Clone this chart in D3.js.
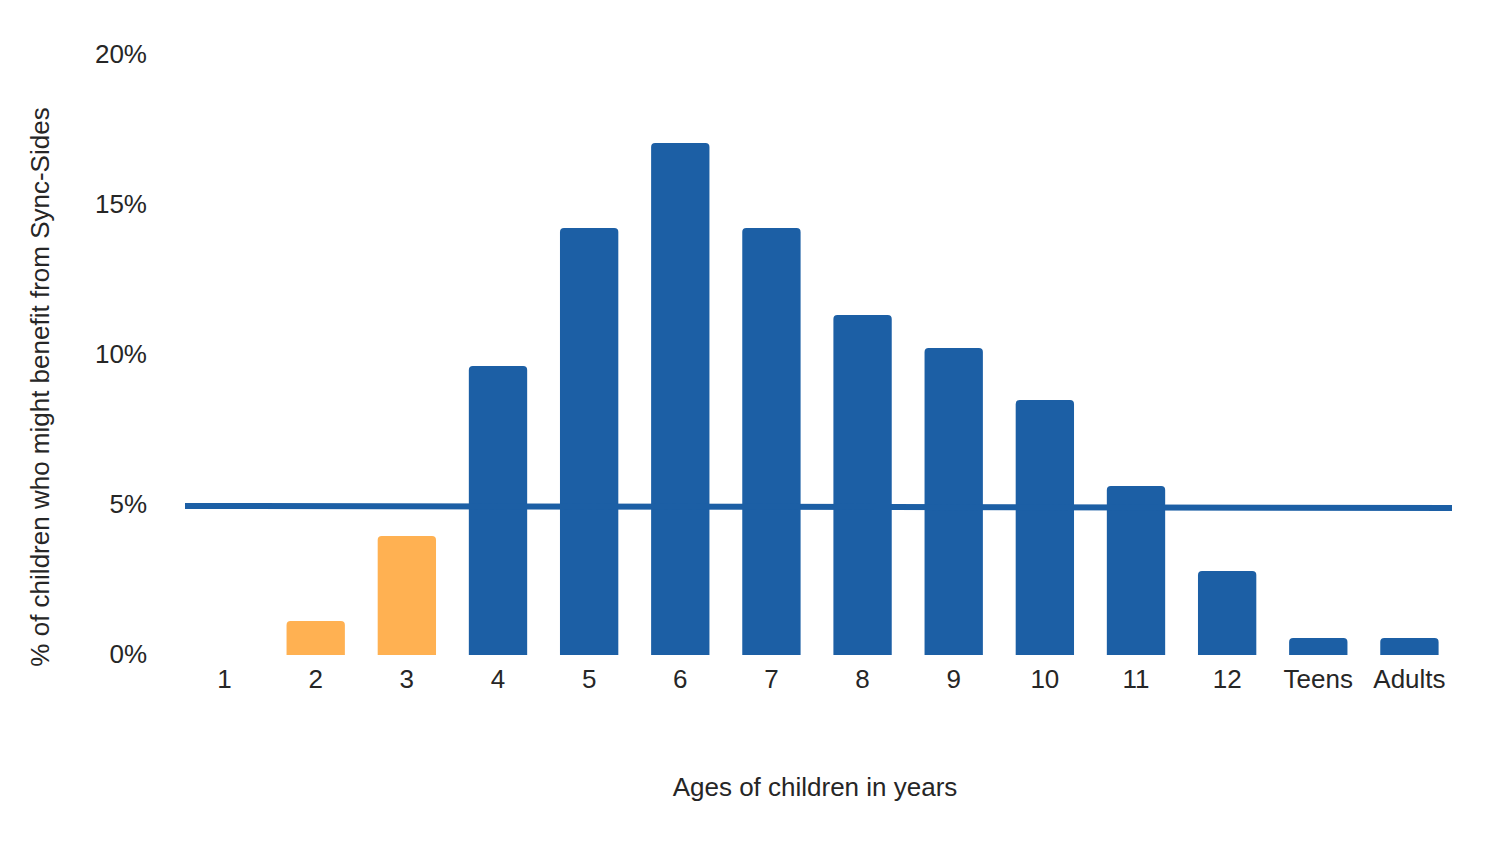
<!DOCTYPE html>
<html><head><meta charset="utf-8">
<script src="https://cdn.jsdelivr.net/npm/d3@7"></script>
<style>body{margin:0;background:#fff;} text{font-family:"Liberation Sans",Arial,sans-serif;fill:#262626;}</style>
</head><body>
<svg id="c" width="1500" height="845"></svg>
<script>
const categories = ["1","2","3","4","5","6","7","8","9","10","11","12","Teens","Adults"];
const values = [0, 1.13, 3.97, 9.63, 14.23, 17.07, 14.23, 11.33, 10.23, 8.5, 5.63, 2.8, 0.57, 0.57];
const highlighted = ["2","3"];
const yTicks = [0, 5, 10, 15, 20];
const thresholdLine = [4.97, 4.9]; // left and right end values
const xTitle = "Ages of children in years";
const yTitle = "% of children who might benefit from Sync-Sides";

const svg = d3.select("#c");
const x = d3.scaleBand().domain(categories).range([179, 1455]).paddingInner(0.36).paddingOuter(0.18);
const y = d3.scaleLinear().domain([0, 20]).range([655, 55]);
const blue = "#1c5fa5", orange = "#ffb152";
const r = 4;

function barPath(x0, y0, w, h) {
  const rr = Math.min(r, h, w/2);
  return `M${x0},${y0+h}V${y0+rr}Q${x0},${y0} ${x0+rr},${y0}H${x0+w-rr}Q${x0+w},${y0} ${x0+w},${y0+rr}V${y0+h}Z`;
}

svg.append("g").selectAll("path").data(categories.map((c,i)=>({c, v: values[i]})).filter(d=>d.v>0))
  .join("path")
  .attr("d", d => barPath(x(d.c), y(d.v), x.bandwidth(), y(0)-y(d.v)))
  .attr("fill", d => highlighted.includes(d.c) ? orange : blue);

// threshold line
const lx = d3.scaleLinear().domain([0,1]).range([185, 1452]);
svg.append("path")
  .datum(thresholdLine)
  .attr("d", d3.line().x((d,i)=>lx(i)).y(d=>y(d)))
  .attr("stroke", blue).attr("stroke-width", 6).attr("fill","none");

// y axis
const yAxis = d3.axisLeft(y).tickValues(yTicks).tickFormat(d => d + "%").tickSize(0).tickPadding(0);
const gy = svg.append("g").attr("transform","translate(147,-1)").call(yAxis);
gy.select(".domain").remove();
gy.selectAll("text").style("font-size","26px").attr("fill","#262626").attr("font-family","Liberation Sans, Arial, sans-serif");

// x axis
const xAxis = d3.axisBottom(x).tickSize(0).tickPadding(0);
const gx = svg.append("g").attr("transform","translate(0,670)").call(xAxis);
gx.select(".domain").remove();
gx.selectAll("text").style("font-size","26px").attr("fill","#262626").attr("dy","0.71em").attr("font-family","Liberation Sans, Arial, sans-serif");

svg.append("text").attr("x", 815).attr("y", 796).attr("text-anchor","middle")
  .style("font-size","26px").text(xTitle);
svg.append("text").attr("transform","translate(49,387) rotate(-90)").attr("text-anchor","middle")
  .style("font-size","26px").text(yTitle);
</script>
</body></html>
